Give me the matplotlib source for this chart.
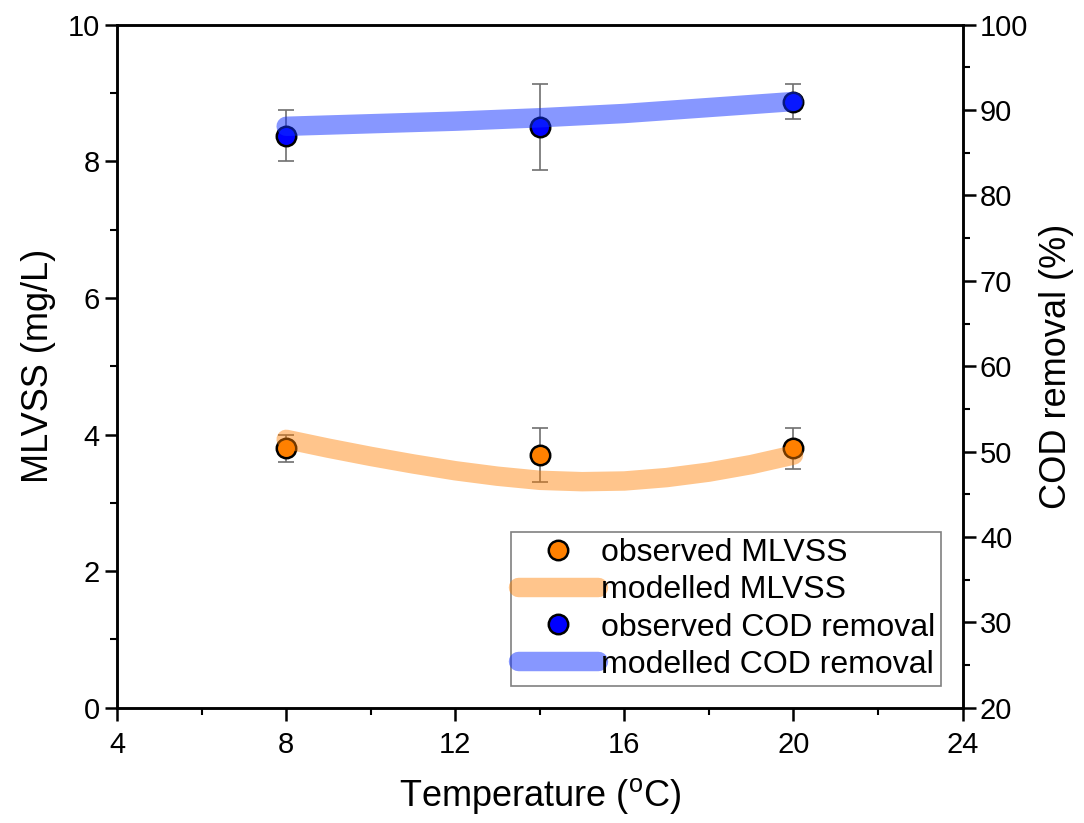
import matplotlib
matplotlib.use("Agg")
import matplotlib.pyplot as plt
from matplotlib.ticker import MultipleLocator

plt.rcParams["font.family"] = ["Liberation Sans", "DejaVu Sans"]

# observed data
temp_obs = [8, 14, 20]
mlvss_obs = [3.8, 3.7, 3.8]
mlvss_err = [0.2, 0.4, 0.3]
cod_obs = [87.0, 88.0, 91.0]
cod_err = [3.0, 5.0, 2.0]

# model curves
temp_mod = [8, 9, 10, 11, 12, 13, 14, 15, 16, 17, 18, 19, 20]
mlvss_mod = [3.93, 3.80, 3.68, 3.57, 3.47, 3.39, 3.33, 3.31, 3.32, 3.37, 3.45, 3.56, 3.70]
cod_mod = [88.1, 88.25, 88.4, 88.55, 88.7, 88.9, 89.1, 89.35, 89.6, 89.95, 90.3, 90.65, 91.0]

fig = plt.figure(figsize=(10.84, 8.23), dpi=100)
ax = fig.add_axes([0.108, 0.14, 0.780, 0.830])
ax2 = ax.twinx()

ax.errorbar(temp_obs, mlvss_obs, yerr=mlvss_err, fmt="none", ecolor="#707070",
            elinewidth=1.2, capsize=6, capthick=1.2, zorder=2)
h1, = ax.plot(temp_obs, mlvss_obs, "o", ms=14, mfc="#FF8000", mec="black", mew=1.8,
              ls="none", zorder=3, label="observed MLVSS")
h2, = ax.plot(temp_mod, mlvss_mod, color="#FF8000", alpha=0.45, lw=14,
              solid_capstyle="round", zorder=4, label="modelled MLVSS")

ax2.errorbar(temp_obs, cod_obs, yerr=cod_err, fmt="none", ecolor="#707070",
             elinewidth=1.2, capsize=6, capthick=1.2, zorder=2)
h3, = ax2.plot(temp_obs, cod_obs, "o", ms=14, mfc="#0000FF", mec="black", mew=1.8,
               ls="none", zorder=3, label="observed COD removal")
h4, = ax2.plot(temp_mod, cod_mod, color="#1030FF", alpha=0.5, lw=14,
               solid_capstyle="round", zorder=4, label="modelled COD removal")

ax.set_xlim(4, 24)
ax.set_ylim(0, 10)
ax2.set_ylim(20, 100)
ax.xaxis.set_major_locator(MultipleLocator(4))
ax.xaxis.set_minor_locator(MultipleLocator(2))
ax.yaxis.set_major_locator(MultipleLocator(2))
ax.yaxis.set_minor_locator(MultipleLocator(1))
ax2.yaxis.set_major_locator(MultipleLocator(10))
ax2.yaxis.set_minor_locator(MultipleLocator(5))

for a in (ax, ax2):
    for s in a.spines.values():
        s.set_linewidth(1.8)
    a.tick_params(which="major", direction="out", length=9, width=1.8, labelsize=21)
    a.tick_params(which="minor", direction="out", length=5, width=1.5)
ax.tick_params(axis="x", pad=8)

ax.set_xlabel("Temperature ($\\mathregular{^{o}}$C)", fontsize=26, labelpad=12)
ax.set_ylabel("MLVSS (mg/L)", fontsize=26, labelpad=8)
ax2.set_ylabel("COD removal (%)", fontsize=26, labelpad=8)

leg = ax2.legend(handles=[h1, h2, h3, h4], loc="lower right",
                 bbox_to_anchor=(0.975, 0.032), borderaxespad=0, fontsize=23,
                 frameon=True, fancybox=False, edgecolor="#606060",
                 handlelength=2.5, handletextpad=0.1, labelspacing=0.22,
                 borderpad=0.2)
leg.get_frame().set_linewidth(1.2)
for lh in leg.get_lines():
    if lh.get_linewidth() > 5:
        lh.set_linewidth(14)

fig.savefig("out.png", dpi=100)
